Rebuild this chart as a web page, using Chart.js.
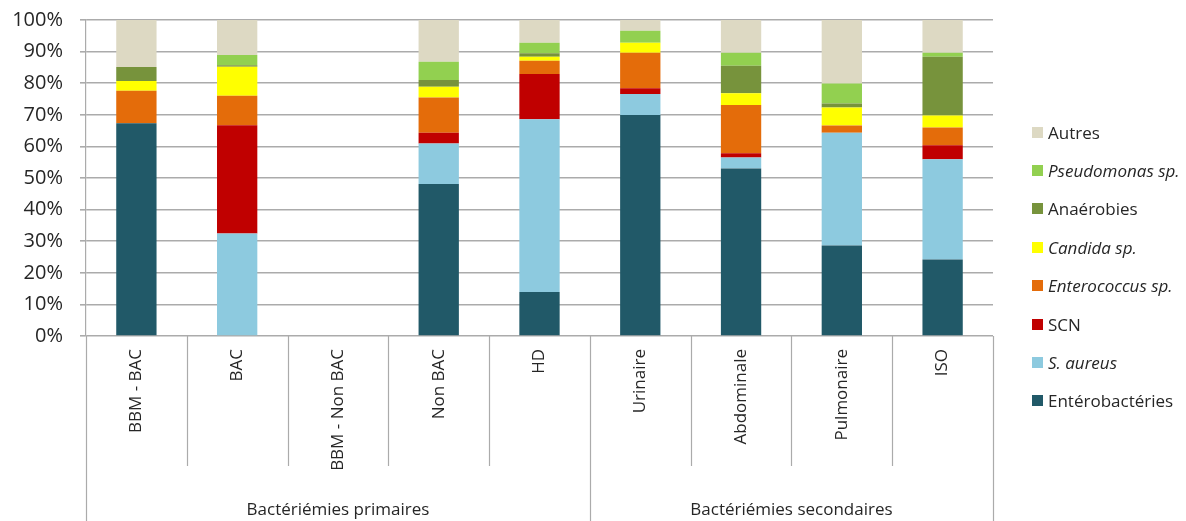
<!DOCTYPE html>
<html>
<head>
<meta charset="utf-8">
<script src="https://cdn.jsdelivr.net/npm/chart.js@4/dist/chart.umd.min.js"></script>
<style>
  html, body { margin: 0; padding: 0; background: #fff; }
  #wrap { position: relative; width: 1186px; height: 521px; }
  #legend { position: absolute; left: 1032px; top: 113px; font-family: 'Open Sans', sans-serif; font-size: 17px; color: #262626; }
  .leg-row { height: 38.4px; display: flex; align-items: center; white-space: nowrap; }
  .leg-box { width: 11px; height: 11px; margin-right: 5px; flex: none; }
</style>
</head>
<body>
<div id="wrap">
  <canvas id="chart" width="1186" height="521"></canvas>
  <div id="legend"></div>
</div>
<script>
const CATEGORIES = ['BBM - BAC', 'BAC', 'BBM - Non BAC', 'Non BAC', 'HD', 'Urinaire', 'Abdominale', 'Pulmonaire', 'ISO'];
const GROUP_LABELS = ['Bactériémies primaires', 'Bactériémies secondaires'];
const GROUP_SIZES = [5, 4];
const Y_TICKS = [0, 10, 20, 30, 40, 50, 60, 70, 80, 90, 100];

// values in %, bottom of the stack first
const ENTEROBACTERIES = [67.3, 0, 0, 48.1, 13.9, 69.9, 53.0, 28.6, 24.2];
const S_AUREUS        = [0, 32.4, 0, 12.8, 54.7, 6.7, 3.5, 35.7, 31.7];
const SCN             = [0, 34.3, 0, 3.4, 14.3, 1.8, 1.3, 0, 4.5];
const ENTEROCOCCUS    = [10.3, 9.3, 0, 11.2, 4.2, 11.2, 15.3, 2.3, 5.6];
const CANDIDA         = [3.1, 9.2, 0, 3.4, 1.3, 3.2, 3.7, 5.7, 3.8];
const ANAEROBIES      = [4.4, 0.5, 0, 2.1, 1.1, 0, 8.7, 1.3, 18.6];
const PSEUDOMONAS     = [0, 3.2, 0, 5.8, 3.3, 3.8, 4.1, 6.3, 1.2];
const AUTRES          = [14.9, 11.1, 0, 13.2, 7.2, 3.4, 10.4, 20.1, 10.4];

const SERIES = [
  { label: 'Entérobactéries', data: ENTEROBACTERIES, color: '#215968', italic: false },
  { label: 'S. aureus', data: S_AUREUS, color: '#8DCADF', italic: true },
  { label: 'SCN', data: SCN, color: '#C00000', italic: false },
  { label: 'Enterococcus sp.', data: ENTEROCOCCUS, color: '#E46C0A', italic: true },
  { label: 'Candida sp.', data: CANDIDA, color: '#FFFF00', italic: true },
  { label: 'Anaérobies', data: ANAEROBIES, color: '#77933C', italic: false },
  { label: 'Pseudomonas sp.', data: PSEUDOMONAS, color: '#92D050', italic: true },
  { label: 'Autres', data: AUTRES, color: '#DDD9C3', italic: false },
];

const FONT = "'Open Sans', sans-serif";
const TEXT = '#262626';
const GRID = '#ababab';

// separators below the x axis and group names
const groupAxis = {
  id: 'groupAxis',
  afterDraw(chart) {
    const { ctx, chartArea, scales: { x } } = chart;
    const step = x.getPixelForValue(1) - x.getPixelForValue(0);
    const base = chartArea.bottom;
    ctx.save();
    ctx.strokeStyle = GRID;
    ctx.lineWidth = 1.2;
    let start = 0;
    const groupEdges = new Set([0]);
    GROUP_SIZES.forEach((n) => { start += n; groupEdges.add(start); });
    for (let i = 0; i <= CATEGORIES.length; i++) {
      const px = Math.round(x.getPixelForValue(0) - step / 2 + i * step) + 0.5;
      ctx.beginPath();
      ctx.moveTo(px, base);
      ctx.lineTo(px, groupEdges.has(i) ? chart.height : base + 130);
      ctx.stroke();
    }
    ctx.fillStyle = TEXT;
    ctx.font = `17px ${FONT}`;
    ctx.textAlign = 'center';
    ctx.textBaseline = 'middle';
    start = 0;
    GROUP_LABELS.forEach((g, k) => {
      const end = start + GROUP_SIZES[k];
      const cx = (x.getPixelForValue(start) + x.getPixelForValue(end - 1)) / 2;
      ctx.fillText(g, cx, 510);
      start = end;
    });
    ctx.restore();
  },
};

new Chart(document.getElementById('chart'), {
  type: 'bar',
  data: {
    labels: CATEGORIES,
    datasets: SERIES.map((s) => ({
      label: s.label,
      data: s.data,
      backgroundColor: s.color,
      borderWidth: 0,
      barPercentage: 0.4,
      categoryPercentage: 1,
    })),
  },
  options: {
    responsive: false,
    animation: false,
    layout: { padding: { left: 0, right: 193, top: 20, bottom: 0 } },
    plugins: { legend: { display: false }, tooltip: { enabled: false } },
    scales: {
      x: {
        stacked: true,
        grid: { display: false },
        border: { display: false },
        ticks: {
          autoSkip: false,
          minRotation: 90,
          maxRotation: 90,
          padding: 5,
          color: TEXT,
          font: { family: FONT, size: 17 },
        },
        afterFit: (scale) => { scale.height = 185; },
      },
      y: {
        stacked: true,
        min: 0,
        max: 100,
        afterBuildTicks: (scale) => { scale.ticks = Y_TICKS.map((v) => ({ value: v })); },
        ticks: {
          callback: (v) => `${v}%`,
          color: TEXT,
          padding: 17,
          font: { family: FONT, size: 20 },
        },
        grid: { color: GRID, lineWidth: 1.6, tickLength: 6 },
        border: { color: GRID, width: 1.2 },
        afterFit: (scale) => {
          scale.width = 86;
          scale.paddingTop = 0;
          scale.paddingBottom = 0;
        },
      },
    },
  },
  plugins: [groupAxis],
});

const legend = document.getElementById('legend');
SERIES.slice().reverse().forEach((s) => {
  const row = document.createElement('div');
  row.className = 'leg-row';
  row.innerHTML = `<span class="leg-box" style="background:${s.color}"></span><span style="font-style:${s.italic ? 'italic' : 'normal'}">${s.label}</span>`;
  legend.appendChild(row);
});
</script>
</body>
</html>
